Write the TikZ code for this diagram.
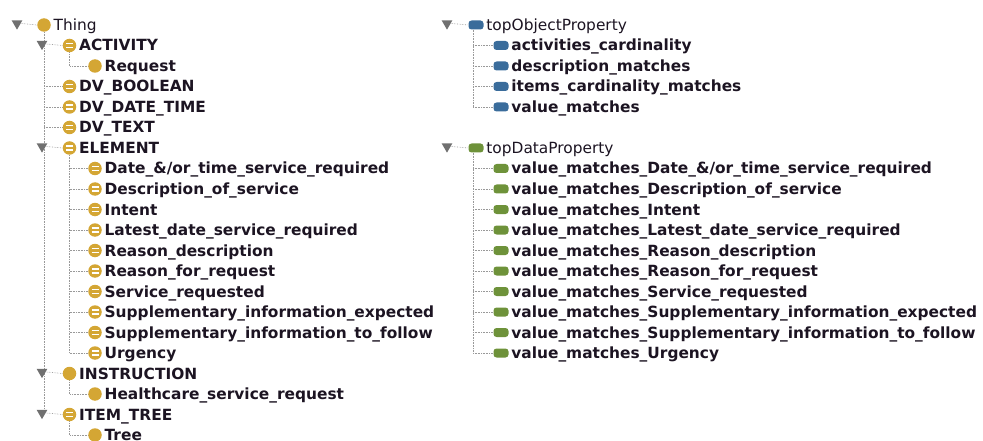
\documentclass[tikz,border=0pt]{standalone}
\usepackage{fontspec}
\setmainfont{DejaVu Sans}
\usetikzlibrary{shapes.geometric,positioning,backgrounds}

\definecolor{clsgold}{RGB}{212,166,52}
\definecolor{objblue}{RGB}{58,108,155}
\definecolor{datagreen}{RGB}{110,146,58}
\definecolor{txtdark}{RGB}{28,20,34}
\definecolor{trigray}{RGB}{112,112,112}

\tikzset{
  cls/.style={circle,fill=clsgold,inner sep=0pt,minimum size=13.5pt},
  defcls/.style={cls,path picture={
      \draw[white,line width=1.4pt]
        ([xshift=-3.5pt,yshift=1.9pt]path picture bounding box.center) -- ++(7pt,0)
        ([xshift=-3.5pt,yshift=-1.9pt]path picture bounding box.center) -- ++(7pt,0);}},
  objprop/.style={rectangle,rounded corners=3pt,fill=objblue,inner sep=0pt,
      minimum width=15pt,minimum height=9pt},
  dataprop/.style={objprop,fill=datagreen},
  tri/.style={regular polygon,regular polygon sides=3,shape border rotate=180,
      fill=trigray,inner sep=0pt,minimum size=12.5pt,yshift=1.6pt},
  lbl/.style={inner sep=0pt,text height=11pt,text depth=0pt,text=txtdark,
      font=\fontsize{15.4pt}{15.4pt}\selectfont\bfseries},
  toplbl/.style={lbl,font=\fontsize{15.4pt}{15.4pt}\selectfont},
  treeline/.style={densely dotted,gray!80,line width=0.6pt},
}

\begin{document}
\begin{tikzpicture}[x=1pt,y=-1pt]
  \useasboundingbox (0,0) rectangle (983,441);

  % class hierarchy
  \node[tri] (t0) at (17,25) {};
  \node[cls] (c0) at (44,25) {};
  \node[toplbl,right=2.5pt of c0] (l0) {Thing};

  \foreach \r/\txt in {1/ACTIVITY,3/DV\_BOOLEAN,4/DV\_DATE\_TIME,5/DV\_TEXT,6/ELEMENT,19/ITEM\_TREE}{
    \node[defcls] (c\r) at (69.5,{25+20.5*\r}) {};
    \node[lbl,right=2.5pt of c\r] (l\r) {\txt};
  }
  \node[cls] (c17) at (69.5,{25+20.5*17}) {};
  \node[lbl,right=2.5pt of c17] (l17) {INSTRUCTION};
  \foreach \r in {1,6,17,19}
    \node[tri] (t\r) at (42,{25+20.5*\r}) {};

  \foreach \r/\txt in {7/{Date\_\&/or\_time\_service\_required},8/Description\_of\_service,
      9/Intent,10/Latest\_date\_service\_required,11/Reason\_description,
      12/Reason\_for\_request,13/Service\_requested,
      14/Supplementary\_information\_expected,15/Supplementary\_information\_to\_follow,
      16/Urgency}{
    \node[defcls] (c\r) at (95,{25+20.5*\r}) {};
    \node[lbl,right=2.5pt of c\r] (l\r) {\txt};
  }
  \foreach \r/\txt in {2/Request,18/Healthcare\_service\_request,20/Tree}{
    \node[cls] (c\r) at (95,{25+20.5*\r}) {};
    \node[lbl,right=2.5pt of c\r] (l\r) {\txt};
  }

  % object properties
  \node[tri] (ot) at (447,25) {};
  \node[objprop] (o0) at (476,25) {};
  \node[toplbl,right=2.5pt of o0] (lo0) {topObjectProperty};
  \foreach \r/\txt in {1/activities\_cardinality,2/description\_matches,
      3/items\_cardinality\_matches,4/value\_matches}{
    \node[objprop] (o\r) at (501,{25+20.5*\r}) {};
    \node[lbl,right=2.5pt of o\r] (lo\r) {\txt};
  }

  % data properties
  \node[tri] (dt) at (447,{25+20.5*6}) {};
  \node[dataprop] (d6) at (476,{25+20.5*6}) {};
  \node[toplbl,right=2.5pt of d6] (ld6) {topDataProperty};
  \foreach \r/\txt in {7/{value\_matches\_Date\_\&/or\_time\_service\_required},
      8/value\_matches\_Description\_of\_service,9/value\_matches\_Intent,
      10/value\_matches\_Latest\_date\_service\_required,
      11/value\_matches\_Reason\_description,12/value\_matches\_Reason\_for\_request,
      13/value\_matches\_Service\_requested,
      14/value\_matches\_Supplementary\_information\_expected,
      15/value\_matches\_Supplementary\_information\_to\_follow,
      16/value\_matches\_Urgency}{
    \node[dataprop] (d\r) at (501,{25+20.5*\r}) {};
    \node[lbl,right=2.5pt of d\r] (ld\r) {\txt};
  }

  % tree lines
  \begin{pgfonlayer}{background}
    \draw[treeline] (t0.east) -- (c0.west);
    \draw[treeline] (c0.south) -- (c0.south |- t19);
    \foreach \r in {1,6,17,19}
      \draw[treeline] (t\r.east) -- (c\r.west);
    \foreach \r in {3,4,5}
      \draw[treeline] (c0.south |- c\r) -- (c\r.west);
    \draw[treeline] (c1.south) |- (c2.west);
    \draw[treeline] (c6.south) -- (c6.south |- c16);
    \foreach \r in {7,...,16}
      \draw[treeline] (c6.south |- c\r) -- (c\r.west);
    \draw[treeline] (c17.south) |- (c18.west);
    \draw[treeline] (c19.south) |- (c20.west);

    \draw[treeline] (ot.east) -- (o0.west);
    \draw[treeline] ([xshift=-3pt]o0.south) -- ([xshift=-3pt]o0.south |- o4);
    \foreach \r in {1,...,4}
      \draw[treeline] ([xshift=-3pt]o0.south |- o\r) -- (o\r.west);
    \draw[treeline] (dt.east) -- (d6.west);
    \draw[treeline] ([xshift=-3pt]d6.south) -- ([xshift=-3pt]d6.south |- d16);
    \foreach \r in {7,...,16}
      \draw[treeline] ([xshift=-3pt]d6.south |- d\r) -- (d\r.west);
  \end{pgfonlayer}
\end{tikzpicture}
\end{document}
